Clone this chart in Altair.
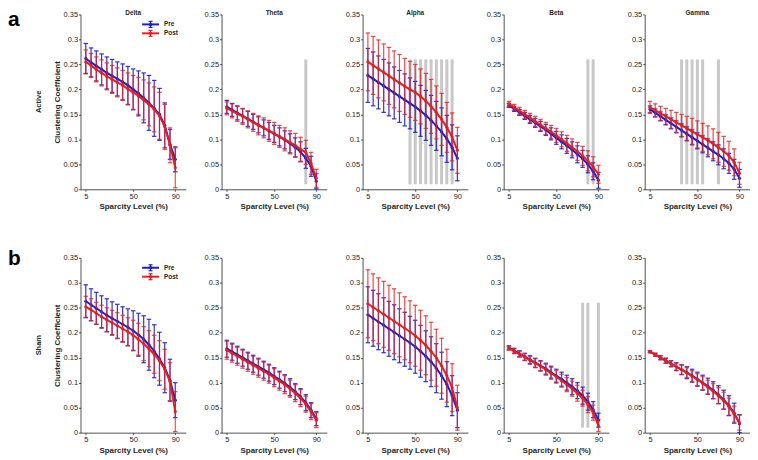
import altair as alt
import pandas as pd

sparsity = [5, 10, 15, 20, 25, 30, 35, 40, 45, 50, 55, 60, 65, 70, 75, 80, 85, 90]
bands = ["Delta", "Theta", "Alpha", "Beta", "Gamma"]
conditions = ["Active", "Sham"]
groups = ["Pre", "Post"]
y_ticks = [0, 0.05, 0.1, 0.15, 0.2, 0.25, 0.3, 0.35]
x_ticks = [5, 50, 90]

# ---------------- Active ----------------
active_delta_pre_mean = [0.262, 0.254, 0.247, 0.240, 0.233, 0.227, 0.221, 0.215, 0.208, 0.200, 0.192, 0.183, 0.173, 0.162, 0.150, 0.128, 0.090, 0.060]
active_delta_pre_sd = [0.030, 0.029, 0.030, 0.031, 0.032, 0.033, 0.034, 0.036, 0.038, 0.041, 0.045, 0.050, 0.055, 0.056, 0.052, 0.045, 0.030, 0.025]
active_delta_post_mean = [0.255, 0.248, 0.240, 0.233, 0.226, 0.220, 0.214, 0.208, 0.201, 0.194, 0.187, 0.179, 0.170, 0.160, 0.147, 0.125, 0.088, 0.043]
active_delta_post_sd = [0.024, 0.024, 0.025, 0.026, 0.027, 0.028, 0.029, 0.030, 0.032, 0.034, 0.037, 0.040, 0.043, 0.045, 0.047, 0.045, 0.035, 0.040]

active_theta_pre_mean = [0.165, 0.159, 0.153, 0.147, 0.141, 0.135, 0.129, 0.123, 0.117, 0.111, 0.105, 0.099, 0.092, 0.084, 0.075, 0.062, 0.046, 0.016]
active_theta_pre_sd = [0.013, 0.013, 0.014, 0.014, 0.015, 0.015, 0.016, 0.016, 0.017, 0.017, 0.018, 0.018, 0.019, 0.019, 0.020, 0.020, 0.020, 0.015]
active_theta_post_mean = [0.162, 0.157, 0.151, 0.146, 0.140, 0.134, 0.128, 0.123, 0.117, 0.112, 0.106, 0.100, 0.094, 0.088, 0.080, 0.074, 0.052, 0.022]
active_theta_post_sd = [0.013, 0.014, 0.015, 0.016, 0.017, 0.018, 0.019, 0.020, 0.021, 0.022, 0.022, 0.023, 0.023, 0.024, 0.024, 0.024, 0.022, 0.018]

active_alpha_pre_mean = [0.228, 0.221, 0.214, 0.207, 0.200, 0.193, 0.186, 0.179, 0.172, 0.165, 0.157, 0.148, 0.138, 0.127, 0.115, 0.101, 0.084, 0.062]
active_alpha_pre_sd = [0.054, 0.054, 0.053, 0.053, 0.053, 0.052, 0.052, 0.052, 0.051, 0.051, 0.051, 0.050, 0.050, 0.049, 0.048, 0.047, 0.045, 0.045]
active_alpha_post_mean = [0.255, 0.248, 0.241, 0.234, 0.227, 0.220, 0.213, 0.206, 0.200, 0.194, 0.186, 0.177, 0.166, 0.154, 0.140, 0.124, 0.105, 0.078]
active_alpha_post_sd = [0.058, 0.058, 0.058, 0.057, 0.057, 0.057, 0.057, 0.056, 0.056, 0.056, 0.055, 0.055, 0.054, 0.053, 0.052, 0.050, 0.048, 0.046]

active_beta_pre_mean = [0.168, 0.161, 0.154, 0.147, 0.140, 0.133, 0.126, 0.119, 0.111, 0.103, 0.095, 0.087, 0.079, 0.070, 0.061, 0.050, 0.036, 0.018]
active_beta_pre_sd = [0.004, 0.005, 0.006, 0.007, 0.008, 0.009, 0.010, 0.011, 0.012, 0.013, 0.014, 0.015, 0.016, 0.017, 0.017, 0.017, 0.017, 0.016]
active_beta_post_mean = [0.171, 0.164, 0.157, 0.150, 0.143, 0.136, 0.129, 0.122, 0.115, 0.108, 0.100, 0.092, 0.084, 0.076, 0.067, 0.057, 0.045, 0.030]
active_beta_post_sd = [0.005, 0.006, 0.007, 0.008, 0.009, 0.010, 0.011, 0.012, 0.013, 0.014, 0.015, 0.016, 0.017, 0.018, 0.019, 0.020, 0.020, 0.018]

active_gamma_pre_mean = [0.160, 0.153, 0.146, 0.139, 0.132, 0.125, 0.118, 0.111, 0.104, 0.097, 0.090, 0.083, 0.076, 0.069, 0.061, 0.052, 0.040, 0.022]
active_gamma_pre_sd = [0.007, 0.008, 0.009, 0.010, 0.011, 0.012, 0.013, 0.014, 0.015, 0.016, 0.017, 0.018, 0.019, 0.020, 0.020, 0.020, 0.020, 0.018]
active_gamma_post_mean = [0.164, 0.158, 0.152, 0.146, 0.140, 0.134, 0.128, 0.122, 0.116, 0.110, 0.104, 0.098, 0.091, 0.084, 0.076, 0.067, 0.054, 0.032]
active_gamma_post_sd = [0.012, 0.013, 0.014, 0.016, 0.018, 0.020, 0.022, 0.024, 0.026, 0.027, 0.028, 0.029, 0.030, 0.030, 0.030, 0.029, 0.027, 0.022]

# ---------------- Sham ----------------
sham_delta_pre_mean = [0.263, 0.256, 0.249, 0.242, 0.235, 0.229, 0.223, 0.217, 0.211, 0.204, 0.196, 0.187, 0.176, 0.163, 0.148, 0.130, 0.105, 0.065]
sham_delta_pre_sd = [0.033, 0.032, 0.032, 0.032, 0.033, 0.033, 0.034, 0.035, 0.037, 0.040, 0.043, 0.047, 0.051, 0.053, 0.053, 0.050, 0.042, 0.035]
sham_delta_post_mean = [0.252, 0.246, 0.239, 0.232, 0.226, 0.220, 0.214, 0.208, 0.202, 0.195, 0.187, 0.178, 0.168, 0.157, 0.144, 0.127, 0.102, 0.042]
sham_delta_post_sd = [0.021, 0.022, 0.022, 0.023, 0.024, 0.025, 0.026, 0.027, 0.028, 0.030, 0.032, 0.034, 0.036, 0.038, 0.040, 0.040, 0.038, 0.040]

sham_theta_pre_mean = [0.168, 0.162, 0.156, 0.150, 0.144, 0.138, 0.132, 0.126, 0.120, 0.113, 0.106, 0.099, 0.091, 0.082, 0.072, 0.060, 0.045, 0.028]
sham_theta_pre_sd = [0.017, 0.017, 0.017, 0.017, 0.017, 0.017, 0.017, 0.017, 0.017, 0.017, 0.017, 0.017, 0.017, 0.016, 0.016, 0.016, 0.015, 0.014]
sham_theta_post_mean = [0.165, 0.159, 0.153, 0.147, 0.141, 0.135, 0.129, 0.123, 0.117, 0.110, 0.103, 0.096, 0.088, 0.079, 0.069, 0.057, 0.042, 0.025]
sham_theta_post_sd = [0.018, 0.018, 0.018, 0.018, 0.018, 0.018, 0.018, 0.018, 0.018, 0.018, 0.018, 0.018, 0.017, 0.017, 0.017, 0.016, 0.016, 0.015]

sham_alpha_pre_mean = [0.236, 0.229, 0.222, 0.215, 0.208, 0.201, 0.194, 0.187, 0.180, 0.172, 0.163, 0.153, 0.142, 0.129, 0.114, 0.097, 0.074, 0.045]
sham_alpha_pre_sd = [0.056, 0.056, 0.056, 0.055, 0.055, 0.055, 0.054, 0.054, 0.053, 0.053, 0.052, 0.051, 0.050, 0.049, 0.047, 0.045, 0.040, 0.035]
sham_alpha_post_mean = [0.258, 0.251, 0.244, 0.237, 0.230, 0.223, 0.216, 0.209, 0.202, 0.194, 0.185, 0.175, 0.163, 0.150, 0.134, 0.114, 0.090, 0.050]
sham_alpha_post_sd = [0.068, 0.067, 0.066, 0.066, 0.065, 0.065, 0.064, 0.063, 0.062, 0.061, 0.060, 0.059, 0.058, 0.057, 0.055, 0.053, 0.048, 0.045]

sham_beta_pre_mean = [0.170, 0.164, 0.158, 0.152, 0.146, 0.140, 0.134, 0.128, 0.121, 0.114, 0.107, 0.100, 0.092, 0.084, 0.074, 0.062, 0.046, 0.025]
sham_beta_pre_sd = [0.004, 0.005, 0.006, 0.007, 0.008, 0.009, 0.010, 0.011, 0.012, 0.013, 0.014, 0.015, 0.016, 0.016, 0.017, 0.017, 0.016, 0.014]
sham_beta_post_mean = [0.169, 0.163, 0.157, 0.151, 0.145, 0.139, 0.133, 0.126, 0.119, 0.112, 0.104, 0.096, 0.088, 0.079, 0.069, 0.056, 0.040, 0.014]
sham_beta_post_sd = [0.004, 0.005, 0.006, 0.007, 0.008, 0.009, 0.010, 0.011, 0.012, 0.013, 0.013, 0.014, 0.015, 0.016, 0.016, 0.016, 0.015, 0.012]

sham_gamma_pre_mean = [0.162, 0.156, 0.150, 0.144, 0.138, 0.132, 0.126, 0.120, 0.114, 0.107, 0.100, 0.093, 0.085, 0.076, 0.066, 0.054, 0.039, 0.018]
sham_gamma_pre_sd = [0.002, 0.003, 0.004, 0.005, 0.006, 0.008, 0.010, 0.012, 0.013, 0.014, 0.015, 0.016, 0.017, 0.018, 0.019, 0.020, 0.020, 0.018]
sham_gamma_post_mean = [0.162, 0.156, 0.150, 0.144, 0.138, 0.132, 0.126, 0.120, 0.113, 0.106, 0.099, 0.091, 0.083, 0.074, 0.064, 0.052, 0.037, 0.020]
sham_gamma_post_sd = [0.002, 0.003, 0.004, 0.005, 0.006, 0.007, 0.009, 0.010, 0.011, 0.012, 0.013, 0.014, 0.015, 0.016, 0.017, 0.017, 0.016, 0.015]

# significant sparsity levels (grey bars)
sig_active_theta = [80]
sig_active_alpha = [45, 50, 55, 60, 65, 70, 75, 80, 85]
sig_active_beta = [80, 85]
sig_active_gamma = [35, 40, 45, 50, 55, 70]
sig_sham_beta = [75, 80, 90]

series = {
    ("Active", "Delta"): (active_delta_pre_mean, active_delta_pre_sd, active_delta_post_mean, active_delta_post_sd),
    ("Active", "Theta"): (active_theta_pre_mean, active_theta_pre_sd, active_theta_post_mean, active_theta_post_sd),
    ("Active", "Alpha"): (active_alpha_pre_mean, active_alpha_pre_sd, active_alpha_post_mean, active_alpha_post_sd),
    ("Active", "Beta"): (active_beta_pre_mean, active_beta_pre_sd, active_beta_post_mean, active_beta_post_sd),
    ("Active", "Gamma"): (active_gamma_pre_mean, active_gamma_pre_sd, active_gamma_post_mean, active_gamma_post_sd),
    ("Sham", "Delta"): (sham_delta_pre_mean, sham_delta_pre_sd, sham_delta_post_mean, sham_delta_post_sd),
    ("Sham", "Theta"): (sham_theta_pre_mean, sham_theta_pre_sd, sham_theta_post_mean, sham_theta_post_sd),
    ("Sham", "Alpha"): (sham_alpha_pre_mean, sham_alpha_pre_sd, sham_alpha_post_mean, sham_alpha_post_sd),
    ("Sham", "Beta"): (sham_beta_pre_mean, sham_beta_pre_sd, sham_beta_post_mean, sham_beta_post_sd),
    ("Sham", "Gamma"): (sham_gamma_pre_mean, sham_gamma_pre_sd, sham_gamma_post_mean, sham_gamma_post_sd),
}
sig_levels = {
    ("Active", "Theta"): sig_active_theta,
    ("Active", "Alpha"): sig_active_alpha,
    ("Active", "Beta"): sig_active_beta,
    ("Active", "Gamma"): sig_active_gamma,
    ("Sham", "Beta"): sig_sham_beta,
}

FONT = "Liberation Sans"
INK = "#262626"
BLUE = "#1c1cd2"
RED = "#e61e1e"
GREY = "#c8c8c8"
W, H = 106, 176
COLORS = {"Pre": BLUE, "Post": RED}


def frame(mean, sd):
    return pd.DataFrame({
        "x": sparsity,
        "mean": mean,
        "lo": [max(0.0, m - s) for m, s in zip(mean, sd)],
        "hi": [m + s for m, s in zip(mean, sd)],
    })


def panel(cond, band, col):
    xs = alt.Scale(domain=[0, 100], nice=False, zero=False)
    ys = alt.Scale(domain=[0, 0.35], nice=False)
    x_axis = alt.Axis(values=x_ticks, title="Sparcity Level (%)", grid=False,
                      tickSize=2, labelPadding=1, titlePadding=3,
                      labelFontSize=7.5, titleFontSize=8, titleFontWeight="bold")
    if col == 0:
        y_axis = alt.Axis(values=y_ticks, format=".2~f", title="Clustering Coefficient", grid=False,
                          tickSize=2, labelPadding=1, titlePadding=2,
                          labelFontSize=7.5, titleFontSize=8, titleFontWeight="bold")
    else:
        y_axis = alt.Axis(values=y_ticks, format=".2~f", title=None, grid=False,
                          tickSize=2, labelPadding=1,
                          labelFontSize=7.5)

    def X(f):
        return alt.X(f"{f}:Q", scale=xs, axis=x_axis)

    def Y(f):
        return alt.Y(f"{f}:Q", scale=ys, axis=y_axis)

    layers = []
    sig = sig_levels.get((cond, band), [])
    if sig:
        sdf = pd.DataFrame({"x": sig, "y1": [0.01] * len(sig), "y2": [0.26] * len(sig)})
        layers.append(alt.Chart(sdf).mark_rule(color=GREY, strokeWidth=3).encode(
            x=X("x"), y=Y("y1"), y2="y2"))
    pre_m, pre_s, post_m, post_s = series[(cond, band)]
    for g, (m, s) in zip(groups, [(pre_m, pre_s), (post_m, post_s)]):
        df = frame(m, s)
        c = COLORS[g]
        op = 0.9 if g == "Pre" else 0.8
        base = alt.Chart(df)
        layers.append(base.mark_rule(color=c, strokeWidth=1.2, opacity=op).encode(
            x=X("x"), y=Y("lo"), y2="hi"))
        layers.append(base.mark_tick(color=c, orient="horizontal", size=4.5, thickness=1.2, opacity=op).encode(
            x=X("x"), y=Y("lo")))
        layers.append(base.mark_tick(color=c, orient="horizontal", size=4.5, thickness=1.2, opacity=op).encode(
            x=X("x"), y=Y("hi")))
        layers.append(base.mark_line(color=c, strokeWidth=2).encode(x=X("x"), y=Y("mean")))
        layers.append(base.mark_point(color=c, filled=True, size=10, opacity=1, shape="circle").encode(
            x=X("x"), y=Y("mean")))

    # column title
    if cond == "Active":
        tdf = pd.DataFrame({"t": [band]})
        layers.append(alt.Chart(tdf).mark_text(font=FONT, fontSize=6.5, fontWeight="bold", color=INK,
                                               align="center", baseline="bottom").encode(
            text="t:N", x=alt.value(W / 2), y=alt.value(2)))

    # legend in the Delta panels
    if band == "Delta":
        for i, g in enumerate(groups):
            yy = 10 + 9 * i
            c = COLORS[g]
            ldf = pd.DataFrame({"t": [g]})
            lb = alt.Chart(ldf)
            layers.append(lb.mark_rule(color=c, strokeWidth=2).encode(
                x=alt.value(62), x2=alt.value(79), y=alt.value(yy)))
            layers.append(lb.mark_rule(color=c, strokeWidth=1.2).encode(
                x=alt.value(70.5), y=alt.value(yy - 3), y2=alt.value(yy + 3)))
            layers.append(lb.mark_rule(color=c, strokeWidth=1.2).encode(
                x=alt.value(68.5), x2=alt.value(72.5), y=alt.value(yy - 3)))
            layers.append(lb.mark_rule(color=c, strokeWidth=1.2).encode(
                x=alt.value(68.5), x2=alt.value(72.5), y=alt.value(yy + 3)))
            layers.append(lb.mark_point(color=c, filled=True, size=12, opacity=1).encode(
                x=alt.value(70.5), y=alt.value(yy)))
            layers.append(lb.mark_text(font=FONT, fontSize=6.5, fontWeight="bold", color=INK,
                                       align="left", baseline="middle").encode(
                text="t:N", x=alt.value(84), y=alt.value(yy)))

    # row label and panel letter
    if col == 0:
        rdf = pd.DataFrame({"t": [cond]})
        layers.append(alt.Chart(rdf).mark_text(font=FONT, fontSize=7.5, fontWeight="bold", color=INK,
                                               angle=270, align="center", baseline="middle").encode(
            text="t:N", x=alt.value(-41.5), y=alt.value(H / 2)))
        letter = "a" if cond == "Active" else "b"
        ldf = pd.DataFrame({"t": [letter]})
        layers.append(alt.Chart(ldf).mark_text(font=FONT, fontSize=21, fontWeight="bold", color="#000000",
                                               align="left", baseline="alphabetic").encode(
            text="t:N", x=alt.value(-73), y=alt.value(12 if cond == "Active" else 7)))

    return alt.layer(*layers).properties(width=W, height=H)


rows = []
for cond in conditions:
    rows.append(alt.hconcat(*[panel(cond, b, i) for i, b in enumerate(bands)], spacing=18))

chart = alt.vconcat(*rows, spacing=37).properties(
    padding={"left": 0, "top": 0, "right": 0, "bottom": 0}
).configure_view(strokeWidth=0).configure_axis(
    labelFont=FONT, titleFont=FONT, labelColor=INK, titleColor=INK,
    domainColor=INK, tickColor=INK, domainWidth=0.8, tickWidth=0.8
)

chart.save("out.html", embed_options={"renderer": "svg", "actions": False})
